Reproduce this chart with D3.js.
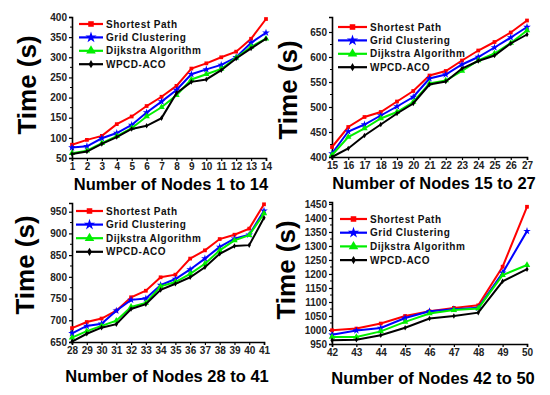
<!DOCTYPE html>
<html>
<head>
<meta charset="utf-8">
<script src="https://cdn.jsdelivr.net/npm/d3@7.9.0/dist/d3.min.js"></script>
<style>
  body { margin: 0; background: #fff; }
  svg { display: block; font-family: "Liberation Sans", Arial, sans-serif; }
  .tick text { font-size: 10px; font-weight: bold; fill: #222; }
</style>
</head>
<body>
<svg id="chart" width="550" height="395"></svg>
<script>
// nodes 1..50, time in seconds
const nodes = d3.range(1, 51);

const shortestPath = [
  83, 95, 105, 134, 153, 179, 202, 229, 272, 285, 300, 314, 346, 395,
  420, 460, 480, 490, 511, 532, 563, 572, 593, 613, 630, 649, 673,
  682, 696, 704, 722, 753, 768, 799, 805, 842, 861, 887, 897, 911, 967,
  999, 1005, 1023, 1050, 1067, 1079, 1088, 1226, 1440
];
const gridClustering = [
  76, 79, 99, 112, 132, 163, 190, 219, 258, 270, 281, 300, 336, 361,
  407, 451, 465, 483, 501, 520, 557, 565, 585, 600, 619, 639, 660,
  670, 687, 692, 722, 747, 750, 781, 795, 817, 842, 869, 888, 897, 952,
  983, 998, 1007, 1043, 1067, 1074, 1079, 1204, 1353
];
const dijkstra = [
  62, 68, 87, 104, 124, 153, 176, 206, 245, 258, 271, 299, 326, 346,
  404, 440, 457, 477, 490, 510, 547, 553, 572, 593, 607, 628, 653,
  660, 675, 687, 699, 731, 740, 778, 788, 807, 830, 861, 884, 896, 946,
  975, 975, 995, 1029, 1059, 1071, 1077, 1196, 1232
];
const wpcdAco = [
  60, 66, 85, 102, 122, 130, 149, 211, 239, 245, 268, 297, 322, 346,
  400, 417, 443, 465, 487, 507, 545, 551, 577, 592, 603, 627, 645,
  651, 669, 683, 691, 726, 737, 770, 784, 799, 822, 853, 871, 873, 936,
  963, 965, 981, 1008, 1041, 1050, 1062, 1174, 1217
];

const nodeRanges = [[1, 14], [15, 27], [28, 41], [42, 50]];
const yDomains = [[50, 400], [400, 680], [650, 970], [950, 1457]];
const yTicks = [
  [50, 100, 150, 200, 250, 300, 350, 400],
  [400, 450, 500, 550, 600, 650],
  [650, 700, 750, 800, 850, 900, 950],
  [950, 1000, 1050, 1100, 1150, 1200, 1250, 1300, 1350, 1400, 1450]
];

const series = [
  { name: 'Shortest Path', values: shortestPath, color: '#ff0000', symbol: d3.symbolSquare, size: 14 },
  { name: 'Grid Clustering', values: gridClustering, color: '#0000ff', symbol: d3.symbolStar, size: 18 },
  { name: 'Dijkstra Algorithm', values: dijkstra, color: '#00ee00', symbol: d3.symbolTriangle, size: 18 },
  { name: 'WPCD-ACO', values: wpcdAco, color: '#000000', symbol: d3.symbolDiamond, size: 9 }
];

// panel frames (pixels)
const panels = [
  { x0: 72, x1: 266, y0: 17, y1: 158, legend: [79, 103, 24, 13.4], yt: [27, 85], xt: [171, 184] },
  { x0: 332, x1: 527, y0: 17, y1: 157, legend: [338, 367, 27, 13.4], yt: [288, 90], xt: [434, 183] },
  { x0: 72, x1: 264, y0: 203, y1: 342, legend: [76, 103, 211, 13.6], yt: [25, 265], xt: [167, 376] },
  { x0: 332, x1: 527, y0: 202, y1: 344, legend: [340, 367, 219, 13.7], yt: [286, 270], xt: [433, 378] }
];

const svg = d3.select('#chart');

panels.forEach((p, i) => {
  const [lo, hi] = nodeRanges[i];
  const x = d3.scaleLinear().domain([lo, hi]).range([p.x0, p.x1]);
  const y = d3.scaleLinear().domain(yDomains[i]).range([p.y1, p.y0]);
  const g = svg.append('g');

  // axes
  g.append('g')
    .attr('transform', `translate(0,${p.y1})`)
    .call(d3.axisBottom(x).tickValues(d3.range(lo, hi + 1)).tickFormat(d3.format('d')).tickSizeOuter(0).tickSize(3).tickPadding(2))
    .call(a => a.select('.domain').attr('stroke-width', 1.6));

  g.append('g')
    .attr('transform', `translate(${p.x0},0)`)
    .call(d3.axisLeft(y).tickValues(yTicks[i]).tickFormat(d3.format('d')).tickSizeOuter(0).tickSize(3).tickPadding(2))
    .call(a => a.select('.domain').attr('stroke-width', 1.6));

  // minor y ticks
  const minor = d3.pairs(yTicks[i]).map(([a, b]) => (a + b) / 2);
  g.selectAll('.minor').data(minor).join('line')
    .attr('x1', p.x0 - 2).attr('x2', p.x0)
    .attr('y1', d => y(d)).attr('y2', d => y(d))
    .attr('stroke', '#000');

  g.selectAll('.tick line').attr('stroke-width', 1.2);

  // lines + markers
  const idx = d3.range(lo - 1, hi);
  series.forEach(s => {
    const pts = idx.map(k => [nodes[k], s.values[k]]);
    g.append('path')
      .datum(pts)
      .attr('fill', 'none')
      .attr('stroke', s.color)
      .attr('stroke-width', 2)
      .attr('d', d3.line().x(d => x(d[0])).y(d => y(d[1])));
    g.selectAll(null).data(pts).join('path')
      .attr('transform', d => `translate(${x(d[0])},${y(d[1])})`)
      .attr('d', d3.symbol().type(s.symbol).size(s.size))
      .attr('fill', s.color);
  });

  // legend
  const [lx0, lx1, ly, ldy] = p.legend;
  series.forEach((s, k) => {
    const yy = ly + k * ldy;
    g.append('line')
      .attr('x1', lx0).attr('x2', lx1).attr('y1', yy).attr('y2', yy)
      .attr('stroke', s.color).attr('stroke-width', 2.2);
    g.append('path')
      .attr('transform', `translate(${(lx0 + lx1) / 2},${yy})`)
      .attr('d', d3.symbol().type(s.symbol).size(s.size * 2.2))
      .attr('fill', s.color);
    g.append('text')
      .attr('x', lx1 + 3).attr('y', yy).attr('dy', '0.35em')
      .attr('font-size', 10).attr('font-weight', 'bold')
      .attr('letter-spacing', 0.5)
      .attr('fill', '#111')
      .text(s.name);
  });

  // titles
  g.append('text')
    .attr('transform', `translate(${p.yt[0]},${p.yt[1]}) rotate(-90)`)
    .attr('text-anchor', 'middle').attr('dy', '0.35em')
    .attr('font-size', 26).attr('font-weight', 'bold')
    .text('Time (s)');

  g.append('text')
    .attr('x', p.xt[0]).attr('y', p.xt[1]).attr('dy', '0.35em')
    .attr('text-anchor', 'middle')
    .attr('font-size', 16.5).attr('font-weight', 'bold')
    .text(`Number of Nodes ${lo} to ${hi}`);
});
</script>
</body>
</html>
